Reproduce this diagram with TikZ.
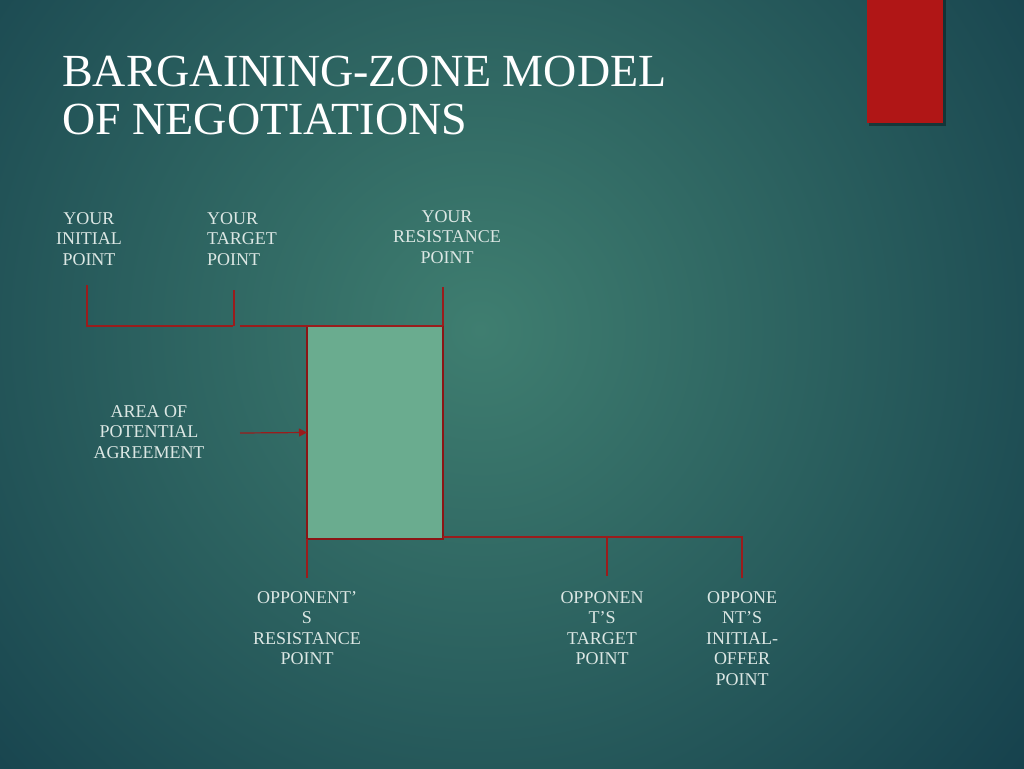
\documentclass[tikz,border=0pt]{standalone}
\usepackage{fontspec}
\setmainfont{Liberation Serif}
\usetikzlibrary{arrows.meta}
\definecolor{bgin}{HTML}{3F7E70}
\definecolor{bgout}{HTML}{0F3747}
\definecolor{redbar}{HTML}{B01616}
\definecolor{lred}{HTML}{9A1C1C}
\definecolor{boxred}{HTML}{8B1515}
\definecolor{boxg}{HTML}{6AAC8F}
\definecolor{txt}{HTML}{DCE7E4}
\begin{document}
\begin{tikzpicture}[x=1pt,y=-1pt,
  lbl/.style={text=txt, font=\fontsize{18}{20.5}\selectfont, align=center, inner sep=0pt, anchor=north},
  conn/.style={draw=lred, line width=1.2pt}]
\useasboundingbox (0,0) rectangle (1024,768);
\begin{scope}
\clip (0,0) rectangle (1024,768);
\shade[inner color=bgin, outer color=bgout] (480,330) circle (820pt);
\end{scope}
% red bar
\fill[black,opacity=0.35] (869,0) rectangle (946,126);
\fill[redbar] (867,0) rectangle (943,123);
% title
\node[anchor=north west, inner sep=0pt, text=white, align=left, font=\fontsize{46}{48}\selectfont] (title) at (62,56) {BARGAINING-ZONE MODEL\\OF NEGOTIATIONS};
% labels
\node[lbl] (yi) at (89,212) {YOUR\\INITIAL\\POINT};
\node[lbl, align=left, anchor=north west] (yt) at (207,212) {YOUR\\TARGET\\POINT};
\node[lbl] (yr) at (447,210) {YOUR\\RESISTANCE\\POINT};
\node[lbl] (apa) at (149,405) {AREA OF\\POTENTIAL\\AGREEMENT};
\node[lbl] (or) at (307,591) {OPPONENT'\\S\\RESISTANCE\\POINT};
\node[lbl] (ot) at (602,591) {OPPONEN\\T'S\\TARGET\\POINT};
\node[lbl] (oi) at (742,591) {OPPONE\\NT'S\\INITIAL-\\OFFER\\POINT};
% zone box
\node[draw=boxred, line width=2pt, fill=boxg, minimum width=136pt, minimum height=213pt, inner sep=0pt, outer sep=0pt, anchor=north west] (zone) at (307,326) {};
% connector points
\coordinate (yiTop) at (87,285);
\coordinate (yiBot) at (87,326);
\coordinate (ytEnd) at (233,326);
\coordinate (ytTop) at (234,290);
\coordinate (ytBot) at (234,326);
\coordinate (ytR) at (240,326);
\coordinate (yrTop) at (443,287);
\coordinate (arrS) at (240,433);
\coordinate (orBot) at (307,578);
\coordinate (bh) at (443,537);
\coordinate (otTop) at (607,537);
\coordinate (otBot) at (607,576);
\coordinate (oiTop) at (742,537);
\coordinate (oiBot) at (742,578);
\draw[conn] (yiTop) -- (yiBot) -- (ytEnd);
\draw[conn] (ytTop) -- (ytBot);
\draw[conn] (ytR) -- (zone.north east);
\draw[conn] (yrTop) -- (zone.north east);
\draw[conn, -{Triangle[length=8pt,width=8pt]}] (arrS) -- (zone.west);
\draw[conn] (zone.south west) -- (orBot);
\draw[conn] (bh) -- (oiTop) -- (oiBot);
\draw[conn] (otTop) -- (otBot);
\end{tikzpicture}
\end{document}
